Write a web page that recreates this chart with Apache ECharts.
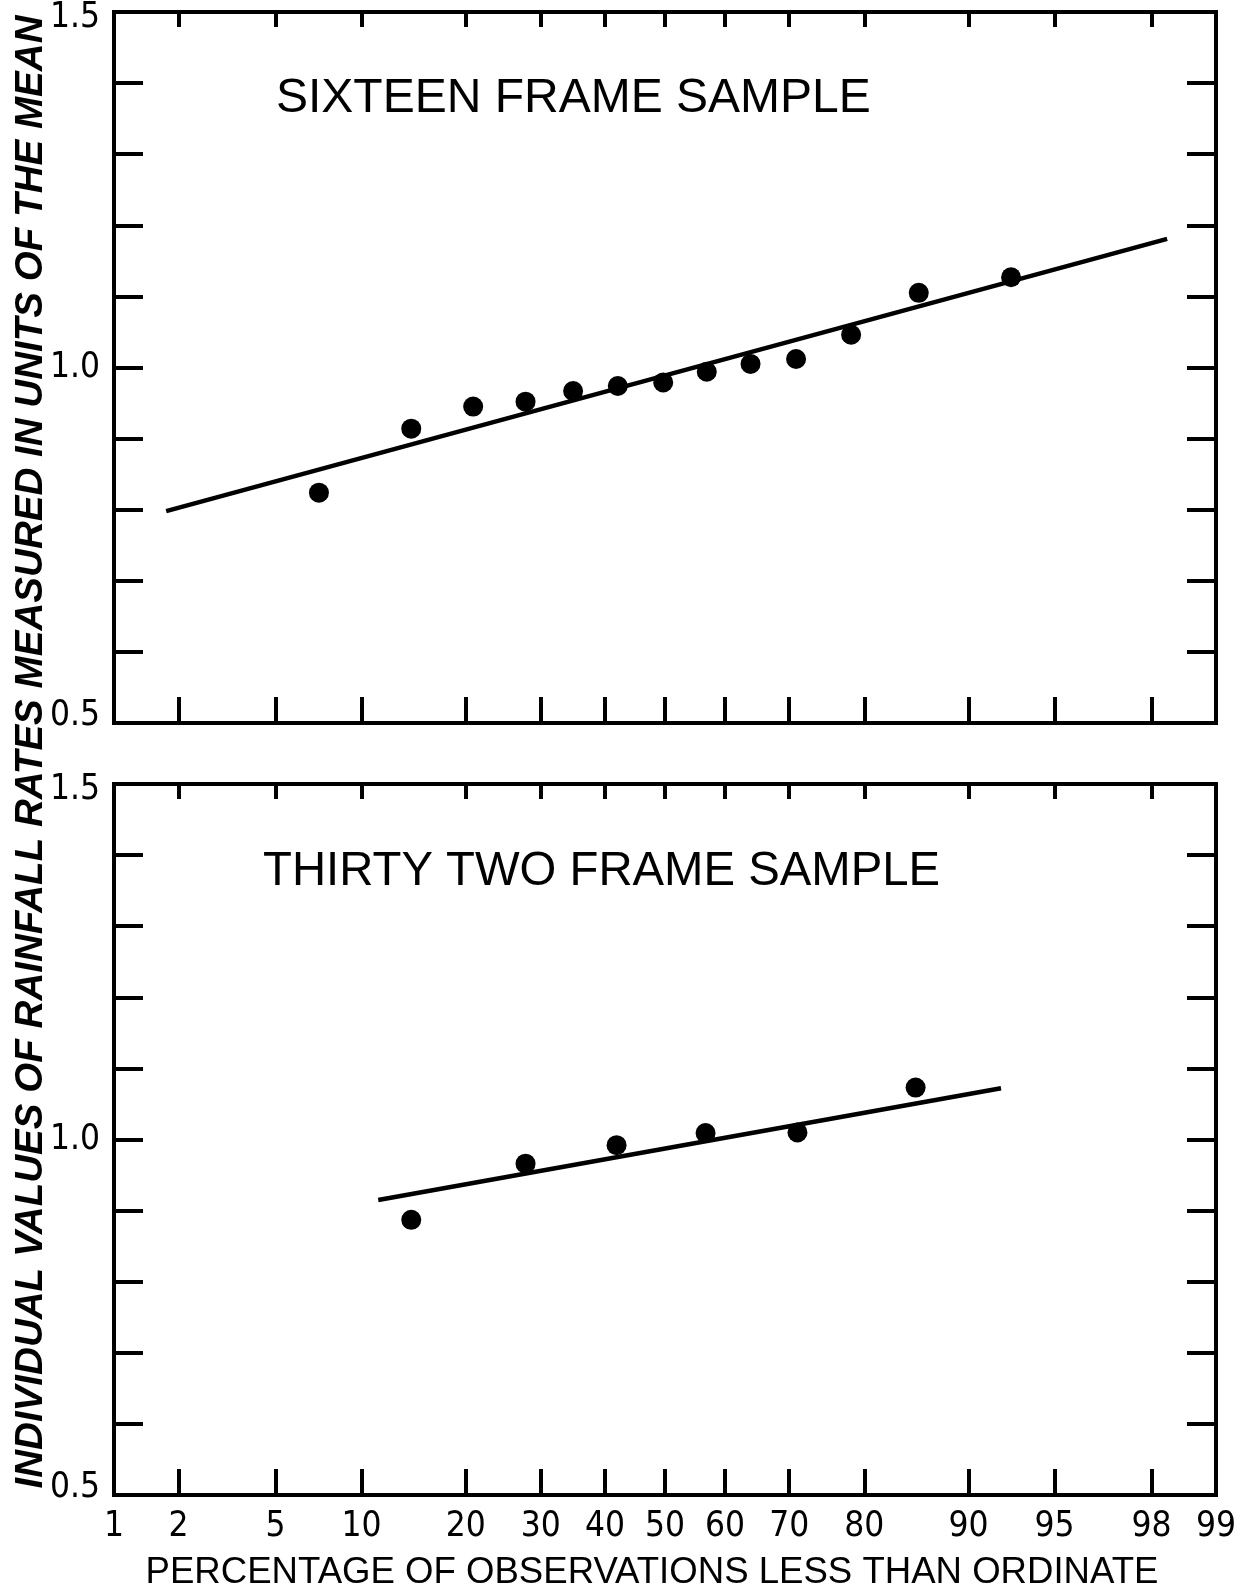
<!DOCTYPE html>
<html>
<head>
<meta charset="utf-8">
<script src="https://cdn.jsdelivr.net/npm/echarts@6/dist/echarts.min.js"></script>
<style>
html,body{margin:0;padding:0;background:#fff;}
#chart{width:1241px;height:1589px;}
</style>
</head>
<body>
<div id="chart"></div>
<script>
// ---- data (percentages on probability scale, values in units of the mean) ----
const tickPercents = [1, 2, 5, 10, 20, 30, 40, 50, 60, 70, 80, 90, 95, 98, 99];
const tickLabels = ['1', '2', '5', '10', '20', '30', '40', '50', '60', '70', '80', '90', '95', '98', '99'];
const yLabelValues = [0.5, 1.0, 1.5];

const sixteenPct = [7.2, 14.2, 20.9, 27.8, 34.9, 42.1, 49.7, 57.0, 64.1, 71.0, 78.4, 85.8, 92.8];
const sixteenVal = [0.824, 0.914, 0.945, 0.952, 0.967, 0.974, 0.979, 0.994, 1.005, 1.012, 1.046, 1.105, 1.127];
const sixteenFitPct = [1.76, 98.3];
const sixteenFitVal = [0.798, 1.181];

const thirtyTwoPct = [14.2, 27.8, 41.9, 56.8, 71.2, 85.5];
const thirtyTwoVal = [0.887, 0.966, 0.992, 1.009, 1.010, 1.073];
const thirtyTwoFitPct = [11.3, 92.2];
const thirtyTwoFitVal = [0.915, 1.072];

const panelTitles = ['SIXTEEN FRAME SAMPLE', 'THIRTY TWO FRAME SAMPLE'];
const xTitle = 'PERCENTAGE OF OBSERVATIONS LESS THAN ORDINATE';
const yTitle = 'INDIVIDUAL VALUES OF RAINFALL RATES MEASURED IN UNITS OF THE MEAN';

// ---- normal quantile (probability scale transform) ----
function probit(pct) {
  const p = pct / 100;
  const a = [-3.969683028665376e+01, 2.209460984245205e+02, -2.759285104469687e+02, 1.383577518672690e+02, -3.066479806614716e+01, 2.506628277459239e+00];
  const b = [-5.447609879822406e+01, 1.615858368580409e+02, -1.556989798598866e+02, 6.680131188771972e+01, -1.328068155288572e+01];
  const c = [-7.784894002430293e-03, -3.223964580411365e-01, -2.400758277161838e+00, -2.549732539343734e+00, 4.374664141464968e+00, 2.938163982698783e+00];
  const d = [7.784695709041462e-03, 3.224671290700398e-01, 2.445134137142996e+00, 3.754408661907416e+00];
  const plow = 0.02425, phigh = 1 - plow;
  let q, r;
  if (p < plow) {
    q = Math.sqrt(-2 * Math.log(p));
    return (((((c[0]*q+c[1])*q+c[2])*q+c[3])*q+c[4])*q+c[5]) / ((((d[0]*q+d[1])*q+d[2])*q+d[3])*q+1);
  } else if (p <= phigh) {
    q = p - 0.5; r = q * q;
    return (((((a[0]*r+a[1])*r+a[2])*r+a[3])*r+a[4])*r+a[5])*q / (((((b[0]*r+b[1])*r+b[2])*r+b[3])*r+b[4])*r+1);
  } else {
    q = Math.sqrt(-2 * Math.log(1 - p));
    return -(((((c[0]*q+c[1])*q+c[2])*q+c[3])*q+c[4])*q+c[5]) / ((((d[0]*q+d[1])*q+d[2])*q+d[3])*q+1);
  }
}

const tickZ = tickPercents.map(probit);
const zMin = tickZ[0], zMax = tickZ[tickZ.length - 1];
const pairs = (px, vs) => px.map((p, i) => [probit(p), vs[i]]);

const FONT = "'Liberation Sans', Arial, sans-serif";
const NFONT = "'Liberation Sans Narrow', 'DejaVu Sans Condensed', 'Liberation Sans', sans-serif";
const BLACK = '#000';

const grids = [
  { left: 114, top: 12, width: 1102, height: 711 },
  { left: 114, top: 784, width: 1102, height: 711 }
];

const xAxes = [];
const yAxes = [];
grids.forEach((g, gi) => {
  const isBottom = gi === 1;
  xAxes.push({
    gridIndex: gi, type: 'value', position: 'bottom', min: zMin, max: zMax,
    axisLine: { show: true, onZero: false, lineStyle: { color: BLACK, width: 4 } },
    axisTick: { show: true, inside: true, length: 26, lineStyle: { color: BLACK, width: 4 }, customValues: tickZ },
    axisLabel: {
      show: isBottom, customValues: tickZ, margin: 14,
      color: BLACK, fontFamily: NFONT, fontSize: 35,
      formatter: (v) => {
        const i = tickZ.findIndex(t => Math.abs(t - v) < 1e-6);
        return i >= 0 ? tickLabels[i] : '';
      }
    },
    splitLine: { show: false }
  });
  xAxes.push({
    gridIndex: gi, type: 'value', position: 'top', min: zMin, max: zMax,
    axisLine: { show: true, onZero: false, lineStyle: { color: BLACK, width: 4 } },
    axisTick: { show: true, inside: true, length: 15, lineStyle: { color: BLACK, width: 4 }, customValues: tickZ },
    axisLabel: { show: false },
    splitLine: { show: false }
  });
  yAxes.push({
    gridIndex: gi, type: 'value', position: 'left', min: 0.5, max: 1.5, interval: 0.1,
    axisLine: { show: true, onZero: false, lineStyle: { color: BLACK, width: 4 } },
    axisTick: { show: true, inside: true, length: 29, lineStyle: { color: BLACK, width: 4 } },
    axisLabel: {
      show: true, customValues: yLabelValues, margin: 14,
      color: BLACK, fontFamily: NFONT, fontSize: 35,
      formatter: (v) => {
        const s = v.toFixed(1);
        if (Math.abs(v - 1.5) < 1e-6) return '{top|' + s + '}';
        if (Math.abs(v - 0.5) < 1e-6) return '{bot|' + s + '}';
        return s;
      },
      rich: {
        top: { fontFamily: NFONT, fontSize: 35, color: BLACK, padding: [12, 0, 0, 0] },
        bot: { fontFamily: NFONT, fontSize: 35, color: BLACK, padding: [0, 0, 14, 0] }
      }
    },
    splitLine: { show: false }
  });
  yAxes.push({
    gridIndex: gi, type: 'value', position: 'right', min: 0.5, max: 1.5, interval: 0.1,
    axisLine: { show: true, onZero: false, lineStyle: { color: BLACK, width: 4 } },
    axisTick: { show: true, inside: true, length: 29, lineStyle: { color: BLACK, width: 4 } },
    axisLabel: { show: false },
    splitLine: { show: false }
  });
});

const scatterStyle = { color: BLACK, opacity: 1 };
const lineStyle = { color: BLACK, width: 4.5 };

const option = {
  animation: false,
  backgroundColor: '#fff',
  grid: grids.map(g => Object.assign({ show: true, borderColor: BLACK, borderWidth: 4, backgroundColor: 'transparent' }, g)),
  xAxis: xAxes,
  yAxis: yAxes,
  series: [
    { type: 'line', xAxisIndex: 0, yAxisIndex: 0, data: pairs(sixteenFitPct, sixteenFitVal), showSymbol: false, lineStyle: lineStyle, silent: true },
    { type: 'scatter', xAxisIndex: 0, yAxisIndex: 0, data: pairs(sixteenPct, sixteenVal), symbol: 'circle', symbolSize: 20, itemStyle: scatterStyle },
    { type: 'line', xAxisIndex: 2, yAxisIndex: 2, data: pairs(thirtyTwoFitPct, thirtyTwoFitVal), showSymbol: false, lineStyle: lineStyle, silent: true },
    { type: 'scatter', xAxisIndex: 2, yAxisIndex: 2, data: pairs(thirtyTwoPct, thirtyTwoVal), symbol: 'circle', symbolSize: 20, itemStyle: scatterStyle }
  ],
  graphic: [
    { type: 'text', x: 276, y: 99, style: { text: panelTitles[0], fill: BLACK, fontFamily: FONT, fontSize: 48, align: 'left', verticalAlign: 'middle' } },
    { type: 'text', x: 263, y: 872, style: { text: panelTitles[1], fill: BLACK, fontFamily: FONT, fontSize: 47.3, align: 'left', verticalAlign: 'middle' } },
    { type: 'text', x: 652, y: 1573, style: { text: xTitle, fill: BLACK, fontFamily: FONT, fontSize: 36.6, align: 'center', verticalAlign: 'middle' } },
    { type: 'text', x: 31, y: 752, rotation: Math.PI / 2, style: { text: yTitle, fill: BLACK, fontFamily: FONT, fontSize: 38.6, fontStyle: 'italic', fontWeight: 'bold', align: 'center', verticalAlign: 'middle' } }
  ]
};

const chart = echarts.init(document.getElementById('chart'), null, { renderer: 'canvas' });
chart.setOption(option);
</script>
</body>
</html>
